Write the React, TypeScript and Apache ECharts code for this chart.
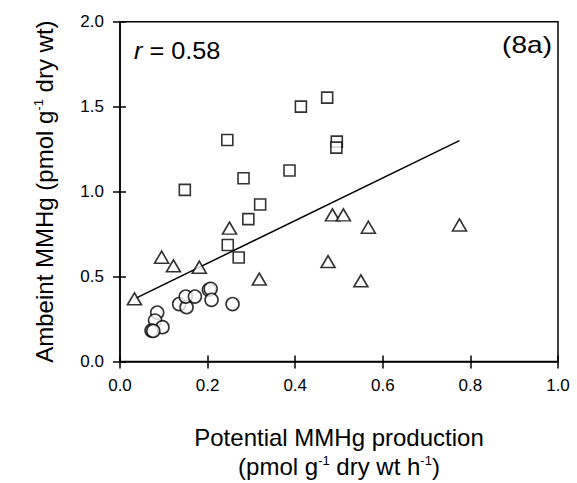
import React, { useEffect, useRef } from "react";
import * as echarts from "echarts";

// Potential MMHg production (x) vs ambient MMHg (y)
const squareX = [0.148, 0.245, 0.282, 0.320, 0.387, 0.413, 0.473, 0.495, 0.494, 0.293, 0.246, 0.271];
const squareY = [1.010, 1.304, 1.079, 0.924, 1.124, 1.500, 1.553, 1.294, 1.259, 0.838, 0.686, 0.612];

const triangleX = [0.033, 0.095, 0.122, 0.181, 0.250, 0.318, 0.475, 0.485, 0.510, 0.567, 0.550, 0.775];
const triangleY = [0.369, 0.614, 0.563, 0.555, 0.785, 0.485, 0.588, 0.863, 0.863, 0.790, 0.475, 0.804];

const circleX = [0.085, 0.080, 0.097, 0.072, 0.076, 0.135, 0.152, 0.150, 0.171, 0.203, 0.207, 0.209, 0.257];
const circleY = [0.288, 0.241, 0.202, 0.182, 0.180, 0.338, 0.320, 0.382, 0.382, 0.422, 0.428, 0.363, 0.338];

const fitX = [0.033, 0.775];
const fitY = [0.369, 1.300];

const xTicks = { min: 0, max: 1, interval: 0.2 };
const yTicks = { min: 0, max: 2, interval: 0.5 };

const FONT = "'Liberation Sans', Arial, sans-serif";

const pairs = (xs: number[], ys: number[]) => xs.map((x, i) => [x, ys[i]]);

export default function App() {
  const ref = useRef<HTMLDivElement>(null);
  useEffect(() => {
    if (!ref.current) return;
    const chart = echarts.init(ref.current, null, { renderer: "svg" });
    const axisLine = { show: true, lineStyle: { color: "#000", width: 1.5 } };
    const tickStyle = { color: "#000", width: 1.5 };
    const labelStyle = { color: "#000", fontSize: 17, fontFamily: FONT };
    const markerStyle = { color: "#fff", borderColor: "#000", borderWidth: 1.6 };
    const nameRich = {
      a: { fontSize: 24, lineHeight: 29, fontFamily: FONT, color: "#000" },
      s: { fontSize: 13, lineHeight: 13, verticalAlign: "top", padding: [2, 0, 0, 0], fontFamily: FONT, color: "#000" },
    };
    chart.setOption({
      animation: false,
      backgroundColor: "#fff",
      grid: {
        left: 120,
        right: 19,
        top: 21.7,
        bottom: 121.3,
        show: true,
        borderColor: "#000",
        borderWidth: 1.5,
        backgroundColor: "transparent",
      },
      xAxis: [
        {
          type: "value",
          position: "bottom",
          ...xTicks,
          axisLine,
          axisTick: { show: true, inside: false, length: 7, lineStyle: tickStyle },
          axisLabel: { ...labelStyle, margin: 15, formatter: (v: number) => v.toFixed(1) },
          splitLine: { show: false },
          name: "{a|Potential MMHg production}\n{a|(pmol g}{s|-1}{a| dry wt h}{s|-1}{a|)}",
          nameLocation: "middle",
          nameGap: 61,
          nameTextStyle: { color: "#000", fontFamily: FONT, rich: nameRich },
        },
        {
          type: "value",
          position: "bottom",
          ...xTicks,
          axisLine: { show: false },
          axisTick: { show: true, inside: true, length: 6, lineStyle: tickStyle },
          axisLabel: { show: false },
          splitLine: { show: false },
        },
      ],
      yAxis: [
        {
          type: "value",
          position: "left",
          ...yTicks,
          axisLine,
          axisTick: { show: true, inside: false, length: 7, lineStyle: tickStyle },
          axisLabel: { ...labelStyle, margin: 16, formatter: (v: number) => v.toFixed(1) },
          splitLine: { show: false },
          name: "{a|Ambeint MMHg (pmol g}{s|-1}{a| dry wt)}",
          nameLocation: "middle",
          nameGap: 61,
          nameTextStyle: { color: "#000", fontFamily: FONT, rich: nameRich },
        },
        {
          type: "value",
          position: "left",
          ...yTicks,
          axisLine: { show: false },
          axisTick: { show: true, inside: true, length: 6, lineStyle: tickStyle },
          axisLabel: { show: false },
          splitLine: { show: false },
        },
      ],
      graphic: [
        {
          type: "text",
          x: 134,
          y: 51,
          scaleX: 1.1,
          style: {
            text: "{i|r} = 0.58",
            fontSize: 23,
            fontFamily: FONT,
            fill: "#000",
            align: "left",
            verticalAlign: "middle",
            rich: { i: { fontStyle: "italic", fontSize: 23, fontFamily: FONT, fill: "#000" } },
          },
        },
        {
          type: "text",
          x: 552,
          y: 45,
          scaleX: 1.22,
          style: {
            text: "(8a)",
            fontSize: 23,
            fontFamily: FONT,
            fill: "#000",
            align: "right",
            verticalAlign: "middle",
          },
        },
      ],
      series: [
        {
          type: "line",
          data: pairs(fitX, fitY),
          showSymbol: false,
          symbol: "none",
          lineStyle: { color: "#000", width: 1.5 },
          z: 1,
        },
        {
          type: "scatter",
          data: pairs(squareX, squareY),
          symbol: "rect",
          symbolSize: 11,
          itemStyle: markerStyle,
          z: 2,
        },
        {
          type: "scatter",
          data: pairs(triangleX, triangleY),
          symbol: "triangle",
          symbolSize: [14, 12],
          itemStyle: markerStyle,
          z: 2,
        },
        {
          type: "scatter",
          data: pairs(circleX, circleY),
          symbol: "circle",
          symbolSize: 13,
          itemStyle: markerStyle,
          z: 2,
        },
      ],
    });
    return () => chart.dispose();
  }, []);
  return <div ref={ref} style={{ width: 577, height: 483, position: "absolute", left: 0, top: 0 }} />;
}
